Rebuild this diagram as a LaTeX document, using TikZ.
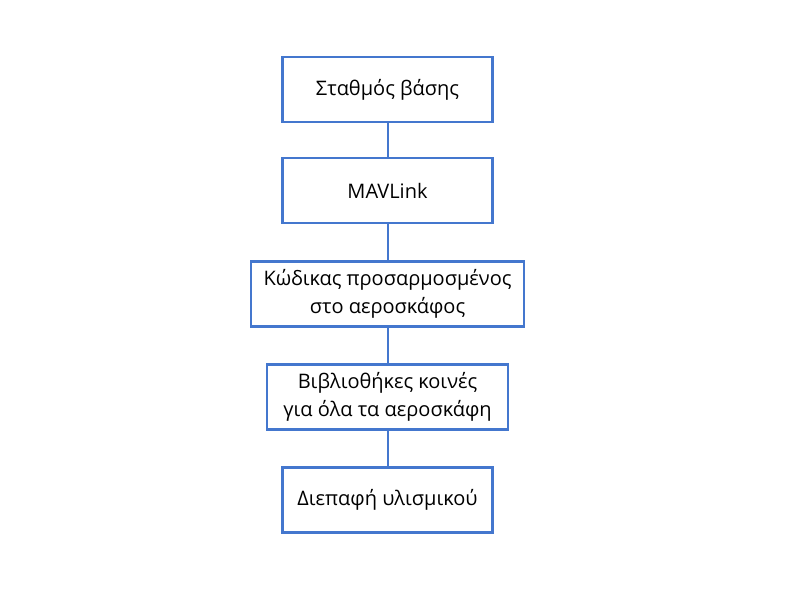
\documentclass[tikz,border=0pt]{standalone}
\usepackage{fontspec}
\setmainfont{Open Sans}
\definecolor{bx}{RGB}{68,119,206}
\begin{document}
\begin{tikzpicture}[x=1pt,y=-1pt,
  box/.style={draw=bx,line width=2.6pt,minimum height=65pt,align=center,inner sep=0pt,font=\fontsize{20}{28}\selectfont},
  link/.style={color=bx,line width=2pt}]
\useasboundingbox (0,0) rectangle (800,600);
\node[box,minimum width=210pt] (a) at (387.5,89.5) {Σταθμός βάσης};
\node[box,minimum width=210pt] (b) at (387.5,190.5) {MAVLink};
\node[box,minimum width=273pt] (c) at (387.5,294) {Κώδικας προσαρμοσμένος\\στο αεροσκάφος};
\node[box,minimum width=241pt] (d) at (387.5,397) {Βιβλιοθήκες κοινές\\για όλα τα αεροσκάφη};
\node[box,minimum width=210pt] (e) at (387.5,500) {Διεπαφή υλισμικού};
\draw[link] (a) -- (b);
\draw[link] (b) -- (c);
\draw[link] (c) -- (d);
\draw[link] (d) -- (e);
\end{tikzpicture}
\end{document}
